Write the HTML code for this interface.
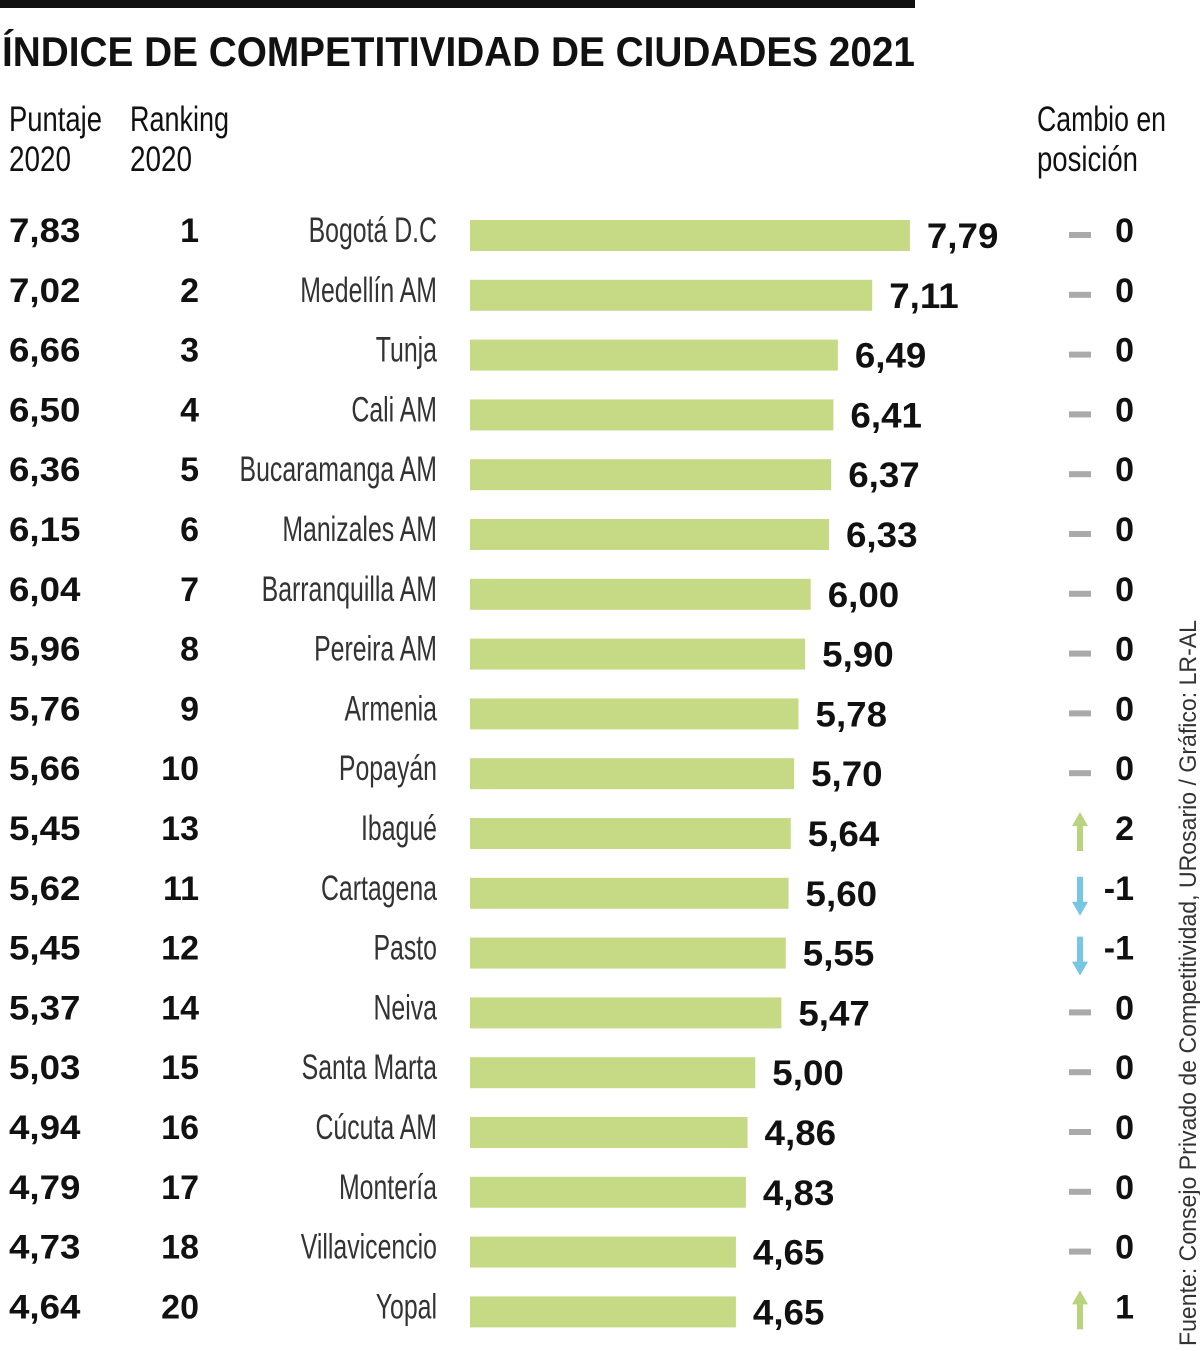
<!DOCTYPE html>
<html><head><meta charset="utf-8"><style>
html,body{margin:0;padding:0;background:#fff;}
svg{display:block;font-family:"Liberation Sans",sans-serif;}
</style></head><body>
<svg id="chart" width="1200" height="1351" viewBox="0 0 1200 1351" xmlns="http://www.w3.org/2000/svg">
<rect x="0" y="0" width="915" height="8" fill="#111"/>
<text x="2" y="66" font-size="42" font-weight="bold" fill="#111" textLength="913" lengthAdjust="spacingAndGlyphs">ÍNDICE DE COMPETITIVIDAD DE CIUDADES 2021</text>
<g font-size="35" fill="#111">
<text x="9" y="131" textLength="93" lengthAdjust="spacingAndGlyphs">Puntaje</text>
<text x="9" y="171" textLength="62" lengthAdjust="spacingAndGlyphs">2020</text>
</g>
<g font-size="35" fill="#111">
<text x="130" y="131" textLength="99" lengthAdjust="spacingAndGlyphs">Ranking</text>
<text x="130" y="171" textLength="62" lengthAdjust="spacingAndGlyphs">2020</text>
</g>
<g font-size="35" fill="#111">
<text x="1037" y="131" textLength="129" lengthAdjust="spacingAndGlyphs">Cambio en</text>
<text x="1037" y="171" textLength="101" lengthAdjust="spacingAndGlyphs">posición</text>
</g>
<text transform="translate(1196,1346) rotate(-90)" font-size="24" fill="#333" textLength="726" lengthAdjust="spacingAndGlyphs">Fuente: Consejo Privado de Competitividad, URosario / Gráfico: LR-AL</text>
<g id="rows"></g>
</svg>
<script>
const cities = ["Bogotá D.C","Medellín AM","Tunja","Cali AM","Bucaramanga AM","Manizales AM","Barranquilla AM","Pereira AM","Armenia","Popayán","Ibagué","Cartagena","Pasto","Neiva","Santa Marta","Cúcuta AM","Montería","Villavicencio","Yopal"];
const score2020 = ["7,83","7,02","6,66","6,50","6,36","6,15","6,04","5,96","5,76","5,66","5,45","5,62","5,45","5,37","5,03","4,94","4,79","4,73","4,64"];
const rank2020 = [1,2,3,4,5,6,7,8,9,10,13,11,12,14,15,16,17,18,20];
const score2021 = [7.79,7.11,6.49,6.41,6.37,6.33,6.00,5.90,5.78,5.70,5.64,5.60,5.55,5.47,5.00,4.86,4.83,4.65,4.65];
const change = [0,0,0,0,0,0,0,0,0,0,2,-1,-1,0,0,0,0,0,1];

const NS="http://www.w3.org/2000/svg";
const g=document.getElementById('rows');
const X0=470, SCALE=55.4, VMIN=-0.15;
function xScale(v){return X0+(v-VMIN)*SCALE;}
function yRow(i){return 235+i*59.8;}
function mk(tag,attrs,txt){const e=document.createElementNS(NS,tag);for(const k in attrs)e.setAttribute(k,attrs[k]);if(txt!==undefined)e.textContent=txt;g.appendChild(e);return e;}
function fmt(v){return v.toFixed(2).replace('.',',');}
cities.forEach((c,i)=>{
  const cy=yRow(i);
  let e=mk('text',{transform:`translate(9,${cy+7}) scale(1.08,1)`,'font-size':34,'font-weight':'bold',fill:'#111'},score2020[i]);
  
  
  e=mk('text',{x:199,y:cy+7,'font-size':34,'font-weight':'bold',fill:'#111','text-anchor':'end'},rank2020[i]);
  
  
  e=mk('text',{transform:`translate(437,${cy+7}) scale(0.71,1)`,'font-size':35,fill:'#333','text-anchor':'end'},c);
  
  
  const xe=xScale(score2021[i]);
  e=mk('rect',{x:X0,y:cy-15,width:xe-X0,height:31,fill:'#c6da86'});
  
  
  e=mk('text',{transform:`translate(${xe+17},${cy+13}) scale(1.05,1)`,'font-size':35,'font-weight':'bold',fill:'#111'},fmt(score2021[i]));
  
  
  const ch=change[i];
  if(ch===0){
    e=mk('rect',{x:1069,y:cy-3,width:22,height:6,fill:'#aaa'});
  } else if(ch>0){
    e=mk('path',{d:`M1080 ${cy-21} L1088 ${cy-7} L1083 ${cy-7} L1083 ${cy+18} L1077 ${cy+18} L1077 ${cy-7} L1072 ${cy-7} Z`,fill:'#b8d47c'});
  } else {
    e=mk('path',{d:`M1080 ${cy+23} L1088 ${cy+9} L1083 ${cy+9} L1083 ${cy-16} L1077 ${cy-16} L1077 ${cy+9} L1072 ${cy+9} Z`,fill:'#77c6e2'});
  }
  
  
  e=mk('text',{x:1134,y:cy+7,'font-size':34,'font-weight':'bold',fill:'#111','text-anchor':'end'},String(ch));
  
  
});
</script>
</body></html>
